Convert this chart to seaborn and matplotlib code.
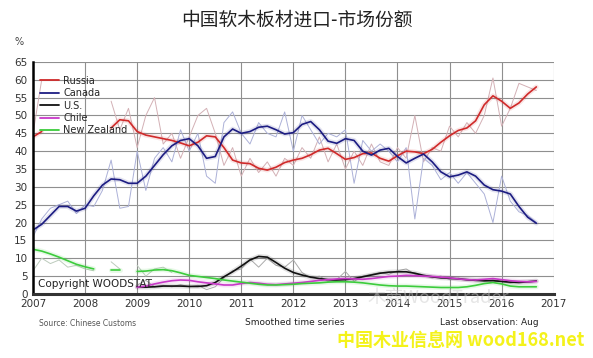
import numpy as np
import pandas as pd
import matplotlib
matplotlib.use("Agg")
import matplotlib.pyplot as plt
import seaborn as sns

nan = np.nan

# bimonthly observations, Jan 2007 .. Sep 2016
dates = pd.date_range("2007-01-01", periods=59, freq="2MS")

# smoothed market shares (%)
russia = [44, 45.5, nan, nan, nan, nan,
          nan, nan, nan, 46.5, 48.8, 48.5,
          45.5, 44.5, 44, 43.5, 43, 42.3,
          41.5, 42.5, 44.3, 44, 41, 37.5,
          36.7, 36.5, 35.2, 34.7, 35.5, 36.8,
          37.5, 38, 39, 40.3, 40.8, 39.3,
          37.7, 38.2, 39.3, 39.5, 38, 37.2,
          38.7, 40, 39.8, 39.3, 40.5, 42.5,
          44.3, 45.8, 46.5, 48.5, 53, 55.5,
          54, 52, 53.5, 56, 58]
canada = [17.9, 19.5, 22, 24.5, 24.5, 23.2,
          24, 27.5, 30.5, 32.2, 32, 31,
          31, 33, 36, 39, 41.5, 43,
          43.5, 41.5, 38, 38.5, 44, 46.2,
          45, 45.5, 46.7, 47, 46, 44.8,
          45.2, 47.5, 48.3, 46, 42.8, 42.2,
          43.5, 43, 40, 38.9, 40.3, 40.8,
          38.5, 36.7, 38, 39.2, 37, 34.2,
          32.8, 33.3, 34.2, 33, 30.5, 29.2,
          28.8, 28, 24.5, 21.5, 19.8]
us = [nan, nan, nan, nan, nan, nan,
      nan, nan, nan, nan, nan, nan,
      2.0, 1.9, 2.0, 2.2, 2.2, 2.2,
      2.1, 2.1, 2.3, 3.2, 4.8, 6.2,
      7.8, 9.5, 10.5, 10.3, 8.8, 7.2,
      6.0, 5.3, 4.7, 4.3, 4.0, 3.9,
      4.0, 4.3, 4.8, 5.3, 5.8, 6.1,
      6.2, 6.2, 5.8, 5.2, 4.8, 4.5,
      4.4, 4.2, 4.0, 3.8, 3.7, 3.7,
      3.5, 3.3, 3.2, 3.4, 3.6]
chile = [nan, nan, nan, nan, nan, nan,
         nan, nan, nan, nan, nan, nan,
         1.9, 2.2, 2.8, 3.3, 3.7, 3.9,
         3.8, 3.4, 3.1, 2.8, 2.5, 2.5,
         2.9, 3.2, 3.0, 2.7, 2.6, 2.8,
         3.0, 3.2, 3.5, 3.8, 4.0, 4.2,
         4.3, 4.2, 4.1, 4.3, 4.6, 4.9,
         5.0, 5.2, 5.1, 5.0, 4.9, 4.7,
         4.5, 4.2, 4.0, 3.9, 4.1, 4.3,
         4.0, 3.7, 3.5, 3.4, 3.5]
new_zealand = [12.5, 12.0, 11.2, 10.3, 9.3, 8.3,
               7.6, 7.0, nan, 6.8, 6.8, nan,
               6.3, 6.4, 6.7, 6.8, 6.5, 5.9,
               5.2, 4.9, 4.6, 4.3, 3.9, 3.6,
               3.3, 3.0, 2.7, 2.5, 2.5, 2.6,
               2.7, 2.9, 3.0, 3.1, 3.3, 3.4,
               3.4, 3.3, 3.1, 2.8, 2.5, 2.3,
               2.2, 2.2, 2.1, 2.0, 1.9, 1.8,
               1.8, 1.8, 2.0, 2.4, 2.9, 3.2,
               2.8, 2.2, 2.0, 2.0, 2.0]

# raw (unsmoothed) shares, drawn faintly
russia_raw = [45, 60, nan, nan, nan, nan,
              nan, nan, nan, 54, 46, 52,
              41, 50, 55, 42, 45, 38,
              44, 50, 52, 45, 36, 41,
              33, 38, 34, 37, 33, 38,
              36, 41, 38, 44, 37, 42,
              35, 40, 36, 42, 37, 36,
              41, 38, 50, 37, 41, 40,
              47, 44, 48, 45, 50, 60.5,
              47, 52, 59, 58, 57]
canada_raw = [16, 21, 24, 25, 26, 22.5,
              25, 24.5, 29, 37.5, 24, 24.5,
              40, 29, 38, 41, 37, 46,
              40, 45, 33, 31, 48, 51,
              45, 42, 48, 45, 44, 51,
              40, 50, 46, 42, 45, 44,
              46, 31, 43, 40, 42, 40,
              37, 41, 21, 38, 36, 32,
              34, 31, 34, 31, 28, 20,
              33, 26, 23, 22, 20]
us_raw = [nan, nan, nan, nan, nan, nan,
          nan, nan, nan, nan, nan, nan,
          2.5, 3.8, 2.0, 2.4, 2.0, 2.6,
          2.0, 2.4, 1.2, 2.0, 4.5, 6.5,
          7.0, 9.8, 7.5, 10.0, 8.0, 7.5,
          9.5, 6.0, 4.5, 5.0, 3.5, 4.0,
          6.3, 3.5, 5.0, 5.5, 6.0, 5.5,
          6.5, 7.0, 5.5, 5.0, 4.5, 5.0,
          4.0, 4.5, 3.8, 4.0, 3.5, 4.0,
          3.5, 3.0, 3.5, 3.2, 3.6]
nz_raw = [6.5, 10, 8.5, 9.5, 7.5, 8.0,
          7.0, 6.5, nan, 9.0, 7.0, nan,
          8.0, 5.0, 7.0, 7.5, 6.0, nan,
          nan, nan, nan, nan, nan, nan,
          nan, nan, nan, nan, nan, nan,
          nan, nan, nan, nan, nan, nan,
          nan, nan, nan, nan, nan, nan,
          nan, nan, nan, nan, nan, nan,
          nan, nan, nan, nan, nan, nan,
          nan, nan, nan, nan, nan]

labels = ["Russia", "Canada", "U.S.", "Chile", "New Zealand"]
colors = ["#d02a2a", "#1c1c82", "#111111", "#c838c8", "#3ccc3c"]
smooth = [russia, canada, us, chile, new_zealand]

year = dates.year + (dates.month - 1) / 12.0


def draw(ax, values, color, lw, alpha=1.0):
    df = pd.DataFrame({"t": year, "v": values})
    df["seg"] = df["v"].isna().cumsum()
    df = df.dropna()
    for _, part in df.groupby("seg"):
        sns.lineplot(data=part, x="t", y="v", ax=ax, color=color,
                     lw=lw, alpha=alpha, estimator=None, sort=False)


sns.set_style("white")
plt.rcParams["font.family"] = ["DejaVu Sans"]

fig = plt.figure(figsize=(5.93, 3.58), dpi=100)
ax = fig.add_axes([0.0557, 0.179, 0.878, 0.648])

# faint raw lines
draw(ax, russia_raw, "#d3b0b5", 0.7)
draw(ax, canada_raw, "#acb1d8", 0.7)
draw(ax, us_raw, "#ababab", 0.7)
draw(ax, nz_raw, "#bccbbc", 0.7)

# halos and smoothed lines
for vals, c in zip(smooth, colors):
    draw(ax, vals, c, 3.5, alpha=0.12)
for vals, c in zip(smooth, colors):
    draw(ax, vals, c, 1.2)

ax.set_xlim(2007, 2017)
ax.set_ylim(0, 65)
ax.set_xticks(range(2007, 2018))
ax.set_yticks(range(0, 66, 5))
ax.set_xlabel("")
ax.set_ylabel("")
ax.grid(True, color="#8f8f8f", lw=0.8)
ax.set_axisbelow(True)
ax.tick_params(length=0, labelsize=7.5, labelcolor="#333333", pad=4)
for s in ["top", "right"]:
    ax.spines[s].set_visible(False)
ax.spines["left"].set_color("black")
ax.spines["left"].set_linewidth(1.8)
ax.spines["bottom"].set_color("#333333")
ax.spines["bottom"].set_linewidth(2.2)

handles = [plt.Line2D([], [], color=c, lw=1.3) for c in colors]
ax.legend(handles, labels, loc="upper left", bbox_to_anchor=(0.0, 0.97),
          frameon=False, fontsize=7, handlelength=2.0, handletextpad=0.4,
          labelspacing=0.25, borderaxespad=0.3)

ax.text(2007.1, 2.7, "Copyright WOODSTAT", fontsize=7.5, color="#222222",
        va="center")

fig.text(0.5, 0.945, "中国软木板材进口-市场份额", ha="center", va="center",
         fontsize=13.5, family=["Noto Sans CJK SC", "DejaVu Sans"], color="#222222")
fig.text(0.025, 0.882, "%", fontsize=7, color="#444444", va="center")
fig.text(0.066, 0.095, "Source: Chinese Customs", fontsize=5.5,
         color="#555555", va="center")
fig.text(0.497, 0.098, "Smoothed time series", fontsize=6.5,
         color="#222222", va="center", ha="center")
fig.text(0.742, 0.098, "Last observation: Aug", fontsize=6.5,
         color="#222222", va="center")
fig.text(0.62, 0.168, "木商WoodTrader", fontsize=13, color="#cccccc",
         alpha=0.5, va="center", family=["Noto Sans CJK SC", "DejaVu Sans"])
fig.text(0.985, 0.05, "中国木业信息网 wood168.net", fontsize=13,
         fontweight="bold", color="#f4f21a", ha="right", va="center",
         family=["Noto Sans CJK SC", "DejaVu Sans"])

fig.savefig("out.png", dpi=100)
